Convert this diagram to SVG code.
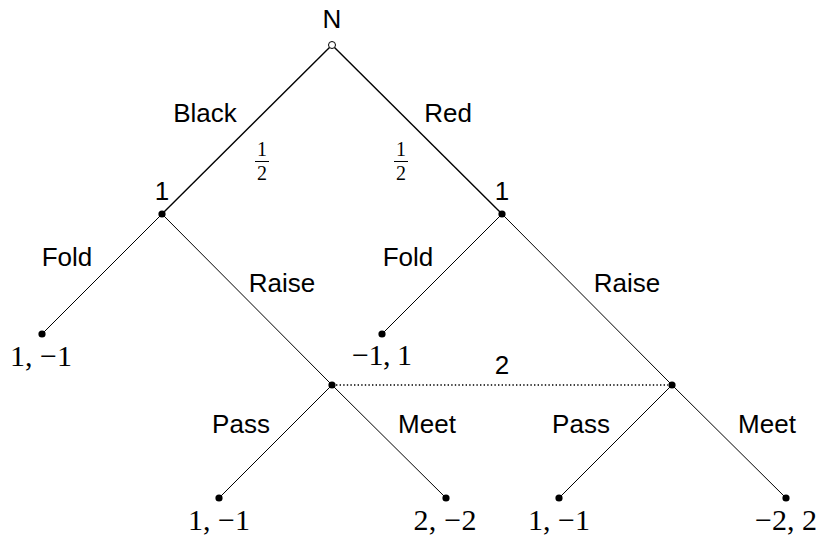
<svg xmlns="http://www.w3.org/2000/svg" width="821" height="535" viewBox="0 0 821 535">
  <style>
    .edge { stroke: #000; fill: none; }
    .top { stroke-width: 1.4; }
    .low { stroke-width: 1; }
    .info { stroke: #000; stroke-width: 1.3; stroke-dasharray: 1.4 2.2; fill: none; }
    .dot { fill: #000; }
    .chance { fill: #fff; stroke: #000; stroke-width: 1; }
    .lbl { font-family: "Liberation Sans", Arial, sans-serif; font-size: 26px; fill: #000; text-anchor: middle; }
    .pay { font-family: "Liberation Serif", "Times New Roman", serif; font-size: 30px; fill: #000; text-anchor: middle; }
    .frac { font-family: "Liberation Serif", "Times New Roman", serif; font-size: 20px; fill: #000; text-anchor: middle; }
  </style>

  <!-- connectors: moves of the game tree and the information set -->
  <g id="connectors">
    <line class="edge top" x1="332" y1="45" x2="162" y2="214"/>
    <line class="edge top" x1="332" y1="45" x2="502" y2="214"/>
    <line class="edge low" x1="162" y1="214" x2="42" y2="334"/>
    <line class="edge low" x1="162" y1="214" x2="332" y2="385"/>
    <line class="edge low" x1="502" y1="214" x2="382" y2="334"/>
    <line class="edge low" x1="502" y1="214" x2="672" y2="385"/>
    <line class="edge low" x1="332" y1="385" x2="219" y2="498"/>
    <line class="edge low" x1="332" y1="385" x2="446" y2="498"/>
    <line class="edge low" x1="672" y1="385" x2="559" y2="498"/>
    <line class="edge low" x1="672" y1="385" x2="786" y2="498"/>
    <line class="info" x1="336" y1="385" x2="668" y2="385"/>
    <text class="lbl" x="502" y="374">2</text>
  </g>

  <!-- edge labels -->
  <g id="edge-labels">
    <text class="lbl" x="205" y="122">Black</text>
    <text class="lbl" x="448" y="122">Red</text>
    <text class="frac" x="262" y="156">1</text>
    <line x1="255" y1="161.5" x2="269" y2="161.5" stroke="#000" stroke-width="1"/>
    <text class="frac" x="262" y="180">2</text>
    <text class="frac" x="401" y="156">1</text>
    <line x1="394" y1="161.5" x2="408" y2="161.5" stroke="#000" stroke-width="1"/>
    <text class="frac" x="401" y="180">2</text>
    <text class="lbl" x="67" y="266">Fold</text>
    <text class="lbl" x="408" y="266">Fold</text>
    <text class="lbl" x="282" y="292">Raise</text>
    <text class="lbl" x="627" y="292">Raise</text>
    <text class="lbl" x="241" y="433">Pass</text>
    <text class="lbl" x="427" y="433">Meet</text>
    <text class="lbl" x="581" y="433">Pass</text>
    <text class="lbl" x="767" y="433">Meet</text>
  </g>

  <!-- chance node -->
  <g id="node-N">
    <circle class="chance" cx="332" cy="45" r="3.5"/>
    <text class="lbl" x="332" y="28">N</text>
  </g>

  <!-- player 1 decision nodes -->
  <g id="node-1-black">
    <circle class="dot" cx="162" cy="214" r="3.6"/>
    <text class="lbl" x="162" y="200">1</text>
  </g>
  <g id="node-1-red">
    <circle class="dot" cx="502" cy="214" r="3.6"/>
    <text class="lbl" x="502" y="200">1</text>
  </g>

  <!-- player 2 decision nodes -->
  <g id="node-2-black">
    <circle class="dot" cx="332" cy="385" r="3.6"/>
  </g>
  <g id="node-2-red">
    <circle class="dot" cx="672" cy="385" r="3.6"/>
  </g>

  <!-- terminal nodes with payoffs -->
  <g id="leaf-black-fold">
    <circle class="dot" cx="42" cy="334" r="3.6"/>
    <text class="pay" x="41" y="366" textLength="62">1, −1</text>
  </g>
  <g id="leaf-red-fold">
    <circle class="dot" cx="382" cy="334" r="3.6"/>
    <text class="pay" x="382" y="365" textLength="60">−1, 1</text>
  </g>
  <g id="leaf-black-pass">
    <circle class="dot" cx="219" cy="498" r="3.6"/>
    <text class="pay" x="219" y="530" textLength="62">1, −1</text>
  </g>
  <g id="leaf-black-meet">
    <circle class="dot" cx="446" cy="498" r="3.6"/>
    <text class="pay" x="445" y="530" textLength="63">2, −2</text>
  </g>
  <g id="leaf-red-pass">
    <circle class="dot" cx="559" cy="498" r="3.6"/>
    <text class="pay" x="559" y="530" textLength="62">1, −1</text>
  </g>
  <g id="leaf-red-meet">
    <circle class="dot" cx="786" cy="498" r="3.6"/>
    <text class="pay" x="786" y="530" textLength="62">−2, 2</text>
  </g>
</svg>
